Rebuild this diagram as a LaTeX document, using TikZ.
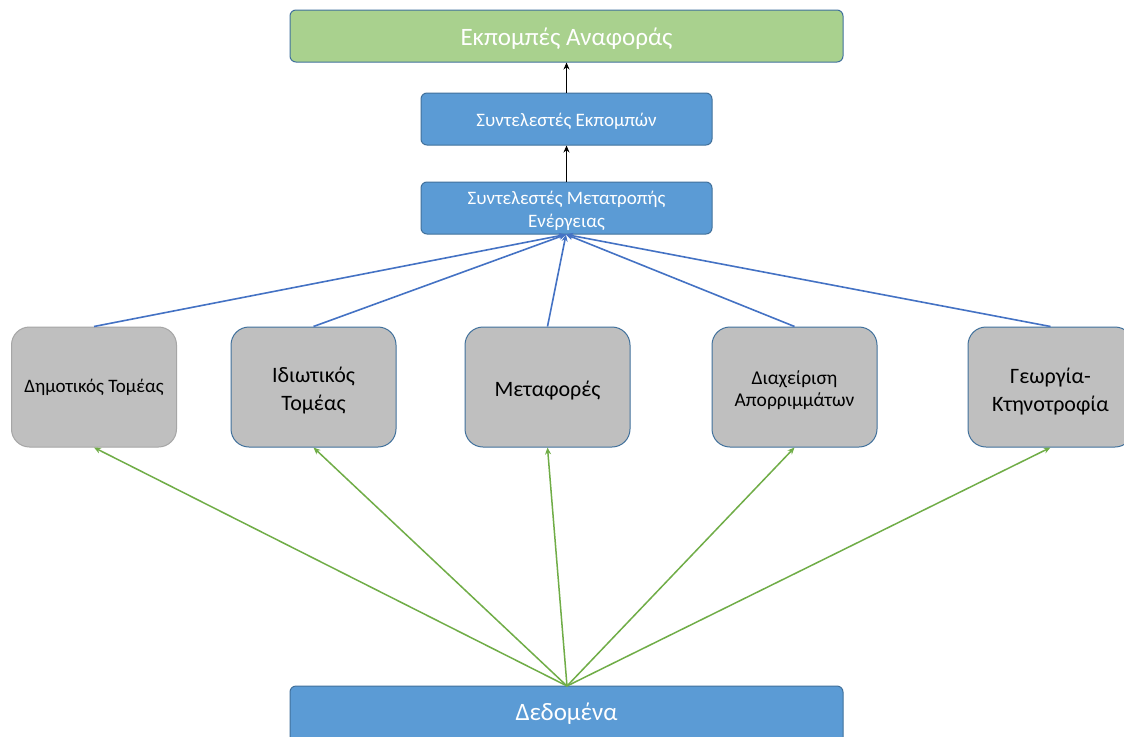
\documentclass[tikz,border=0pt]{standalone}
\usepackage{fontspec}
\setmainfont{Carlito}
\usetikzlibrary{arrows.meta}
\definecolor{gfill}{HTML}{A9D18E}
\definecolor{bfill}{HTML}{5B9BD5}
\definecolor{bline}{HTML}{41719C}
\definecolor{grfill}{HTML}{BFBFBF}
\definecolor{grline}{HTML}{A6A6A6}
\definecolor{blueconn}{HTML}{4472C4}
\definecolor{greenconn}{HTML}{70AD47}
\tikzset{
  x=1pt, y=-1pt,
  topbox/.style={draw=bline, line width=1pt, fill=gfill, rounded corners=6pt, inner sep=0pt},
  bluebox/.style={draw=bline, line width=1pt, fill=bfill, rounded corners=6pt, inner sep=0pt},
  graybox/.style={draw=bline, line width=1pt, fill=grfill, rounded corners=18pt, inner sep=0pt, minimum width=165pt, minimum height=120pt},
  wlbl/.style={text=white, align=center, inner sep=0pt},
  klbl/.style={text=black, align=center, inner sep=0pt},
  big/.style={font=\fontsize{25}{30}\selectfont},
  mid/.style={font=\fontsize{22}{28}\selectfont},
  sml/.style={font=\fontsize{19}{23}\selectfont},
  bconn/.style={draw=blueconn, line width=1.6pt, -{Stealth[length=7pt,width=6pt]}},
  gconn/.style={draw=greenconn, line width=1.5pt, -{Stealth[length=7pt,width=6pt]}},
  kconn/.style={draw=black, line width=1.8pt, -{Stealth[length=7pt,width=6pt]}},
}
\begin{document}
\begin{tikzpicture}
\clip (0,0) rectangle (1124,736);
\fill[white] (0,0) rectangle (1124,736);
% boxes
\node[topbox, minimum width=553pt, minimum height=52pt] (ref) at (566.5,36) {};
\node[bluebox, minimum width=291pt, minimum height=52pt] (ef) at (566.5,119) {};
\node[bluebox, minimum width=291pt, minimum height=52pt] (ec) at (566.5,208) {};
\node[graybox, draw=grline] (dim) at (94,387) {};
\node[graybox] (idi) at (313.5,387) {};
\node[graybox] (met) at (547.5,387) {};
\node[graybox] (dia) at (794.5,387) {};
\node[graybox] (geo) at (1050.5,387) {};
\node[bluebox, minimum width=553pt, minimum height=60pt] (data) at (566.5,716) {};
% labels
\node[wlbl, big] (reft) at ([yshift=-2.5pt]ref.center) {Εκπομπές Αναφοράς};
\node[wlbl, sml] (eft) at ([yshift=-2.5pt]ef.center) {Συντελεστές Εκπομπών};
\node[wlbl, sml] (ect) at ([yshift=-3pt]ec.center) {Συντελεστές Μετατροπής\\Ενέργειας};
\node[klbl, sml] (dimt) at ([yshift=-0.5pt]dim.center) {Δημοτικός Τομέας};
\node[klbl, mid] (idit) at ([yshift=-4pt]idi.center) {Ιδιωτικός\\Τομέας};
\node[klbl, mid] (mett) at ([yshift=-4pt]met.center) {Μεταφορές};
\node[klbl, font=\fontsize{19.5}{22}\selectfont] (diat) at ([yshift=-3pt]dia.center) {Διαχείριση\\Απορριμμάτων};
\node[klbl, mid] (geot) at ([yshift=-4.5pt]geo.center) {Γεωργία-\\Κτηνοτροφία};
\node[wlbl, big] (datat) at (566.5,714) {Δεδομένα};
% connectors
\coordinate (ectgt) at (566,234.5);
\coordinate (datasrc) at (567,686);
\draw[kconn] (ef.north) -- (ref.south);
\draw[kconn] (ec.north) -- (ef.south);
\foreach \n in {dim,idi,met,dia,geo}{
  \draw[bconn] (\n.north) -- (ectgt);
  \draw[gconn] (datasrc) -- (\n.south);
}
\end{tikzpicture}
\end{document}
